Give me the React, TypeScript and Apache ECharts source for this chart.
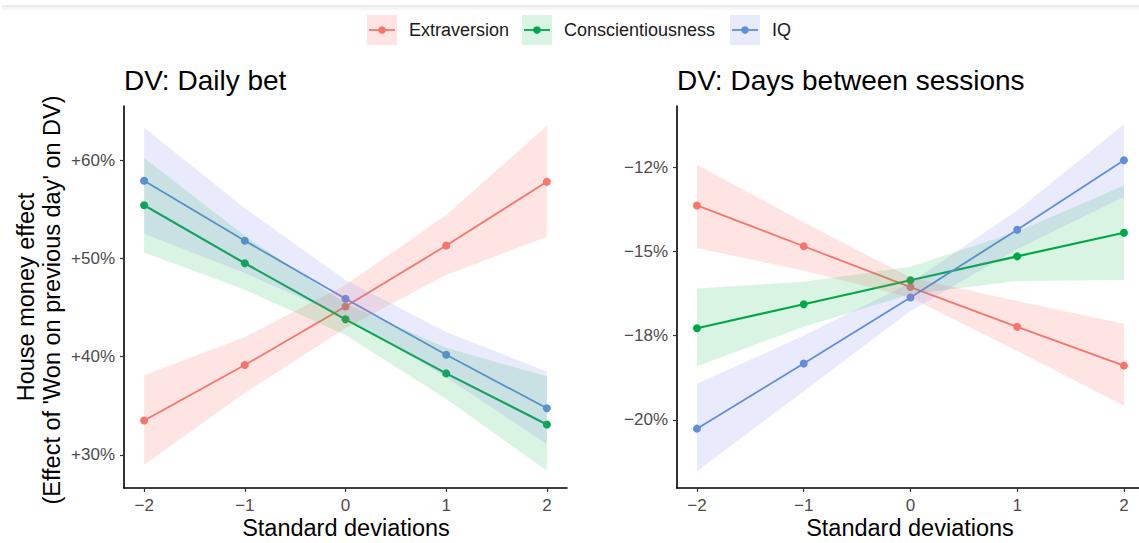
import React, { useEffect, useRef } from "react";
import * as echarts from "echarts";

const sd = [-2, -1, 0, 1, 2];
const seriesNames = ["Extraversion", "Conscientiousness", "IQ"];
const lineColors = ["#F8766D", "#00A64B", "#5F8FD6"];
const bandColors = ["rgba(248,118,109,0.19)", "rgba(0,180,60,0.15)", "rgba(120,128,235,0.16)"];

// Panel 1: DV Daily bet (percent)
const betExt = [33.5, 39.15, 45.1, 51.3, 57.8];
const betExtLo = [29.0, 36.3, 42.9, 48.3, 52.2];
const betExtHi = [38.1, 42.0, 47.3, 54.4, 63.5];
const betCon = [55.4, 49.5, 43.8, 38.3, 33.1];
const betConLo = [50.6, 46.8, 42.2, 35.7, 28.4];
const betConHi = [60.2, 52.3, 45.4, 40.9, 38.0];
const betIQ = [57.9, 51.8, 45.9, 40.2, 34.75];
const betIQLo = [52.5, 48.5, 44.0, 37.9, 31.1];
const betIQHi = [63.3, 55.1, 47.8, 42.5, 38.5];

// Panel 2: DV Days between sessions (percent)
const daysExt = [-13.64, -14.85, -16.06, -17.24, -18.39];
const daysExtLo = [-14.9, -15.58, -16.37, -17.96, -19.58];
const daysExtHi = [-12.43, -14.14, -15.78, -16.47, -17.15];
const daysCon = [-17.28, -16.57, -15.86, -15.15, -14.45];
const daysConLo = [-18.41, -17.24, -16.27, -15.88, -15.85];
const daysConHi = [-16.1, -15.9, -15.46, -14.42, -13.05];
const daysIQ = [-20.26, -18.33, -16.37, -14.36, -12.3];
const daysIQLo = [-21.52, -19.15, -16.77, -14.93, -13.39];
const daysIQHi = [-18.93, -17.5, -15.93, -13.79, -11.24];

const leftTicks = [30, 40, 50, 60];
const leftTickLabels = ["+30%", "+40%", "+50%", "+60%"];
const rightTicks = [-20, -17.5, -15, -12.5];
const rightTickLabels = ["\u221220%", "\u221218%", "\u221215%", "\u221212%"];

const panelTitles = ["DV: Daily bet", "DV: Days between sessions"];
const xTitle = "Standard deviations";
const yTitle1 = "House money effect";
const yTitle2 = "(Effect of 'Won on previous day' on DV)";

const FONT = "'Liberation Sans', Arial, Helvetica, sans-serif";

function bandSeries(idx: number, lo: number[], hi: number[], color: string) {
  return {
    type: "custom",
    xAxisIndex: idx,
    yAxisIndex: idx,
    z: 3,
    silent: true,
    data: sd.map((x, i) => [x, lo[i], hi[i]]),
    encode: { x: 0, y: [1, 2] },
    renderItem: (params: any, api: any) => {
      if (params.dataIndex !== 0) return null;
      const upper = sd.map((x, i) => api.coord([x, hi[i]]));
      const lower = sd.map((x, i) => api.coord([x, lo[i]])).reverse();
      return {
        type: "polygon",
        shape: { points: [...upper, ...lower] },
        style: { fill: color },
      };
    },
  };
}

function lineSeries(idx: number, name: string, vals: number[], color: string) {
  return {
    type: "line",
    name,
    xAxisIndex: idx,
    yAxisIndex: idx,
    z: 2,
    data: sd.map((x, i) => [x, vals[i]]),
    symbol: "circle",
    symbolSize: 8,
    showSymbol: true,
    lineStyle: { color, width: name === "Conscientiousness" ? 2.1 : 1.8 },
    itemStyle: { color },
  };
}

function fmtX(v: number) {
  return v < 0 ? "\u2212" + Math.abs(v) : String(v);
}

function xAxisCfg(gridIndex: number, min: number, max: number) {
  return {
    type: "value",
    gridIndex,
    min,
    max,
    splitLine: { show: false },
    axisLine: { show: true, onZero: false, lineStyle: { color: "#000", width: 1.6 } },
    axisTick: { show: true, length: 4, customValues: sd, lineStyle: { color: "#333", width: 1.2 } },
    axisLabel: {
      customValues: sd,
      formatter: (v: number) => fmtX(v),
      fontSize: 17,
      color: "#4D4D4D",
      fontFamily: FONT,
      margin: 9,
    },
  };
}

function yAxisCfg(gridIndex: number, min: number, max: number, ticks: number[], labels: string[]) {
  return {
    type: "value",
    gridIndex,
    min,
    max,
    splitLine: { show: false },
    axisLine: { show: true, onZero: false, lineStyle: { color: "#000", width: 1.6 } },
    axisTick: { show: true, length: 4, customValues: ticks, lineStyle: { color: "#333", width: 1.2 } },
    axisLabel: {
      customValues: ticks,
      formatter: (v: number) => {
        const k = ticks.findIndex((t) => Math.abs(t - v) < 1e-6);
        return k >= 0 ? labels[k] : "";
      },
      fontSize: 17,
      color: "#4D4D4D",
      fontFamily: FONT,
      margin: 9,
    },
  };
}

export default function App() {
  const ref = useRef<HTMLDivElement>(null);
  useEffect(() => {
    if (!ref.current) return;
    const chart = echarts.init(ref.current, null, { renderer: "svg" });

    const legendKeyX = [367, 522, 730];
    const legendGraphics: any[] = [];
    seriesNames.forEach((n, i) => {
      const kx = legendKeyX[i];
      legendGraphics.push(
        { type: "rect", shape: { x: kx, y: 15, width: 30, height: 30 }, style: { fill: bandColors[i] } },
        { type: "line", shape: { x1: kx + 2, y1: 30, x2: kx + 28, y2: 30 }, style: { stroke: lineColors[i], lineWidth: 1.8 } },
        { type: "circle", shape: { cx: kx + 15, cy: 30, r: 3.8 }, style: { fill: lineColors[i] } },
        {
          type: "text",
          x: kx + 42,
          y: 30,
          style: { text: n, fontSize: 18, fontFamily: FONT, fill: "#1A1A1A", textVerticalAlign: "middle", textAlign: "left" },
        }
      );
    });

    chart.setOption({
      animation: false,
      backgroundColor: "#FFFFFF",
      grid: [
        { left: 124, top: 106, width: 443, height: 382 },
        { left: 677, top: 106, width: 462, height: 382 },
      ],
      xAxis: [xAxisCfg(0, -2.2, 2.2), xAxisCfg(1, -2.187, 2.141)],
      yAxis: [
        yAxisCfg(0, 26.64, 65.5, leftTicks, leftTickLabels),
        yAxisCfg(1, -22.02, -10.69, rightTicks, rightTickLabels),
      ],
      graphic: [
        { type: "rect", shape: { x: 2, y: 5, width: 1137, height: 2 }, style: { fill: "#EBEBEB" } },
        { type: "rect", shape: { x: 2, y: 7, width: 1137, height: 3 }, style: { fill: "#F6F6F6" } },
        ...legendGraphics,
        {
          type: "text", x: 124, y: 80,
          style: { text: panelTitles[0], fontSize: 28, fontFamily: FONT, fill: "#000", textVerticalAlign: "middle", textAlign: "left" },
        },
        {
          type: "text", x: 677, y: 80,
          style: { text: panelTitles[1], fontSize: 28, fontFamily: FONT, fill: "#000", textVerticalAlign: "middle", textAlign: "left" },
        },
        {
          type: "text", x: 346, y: 528,
          style: { text: xTitle, fontSize: 23.5, fontFamily: FONT, fill: "#000", textVerticalAlign: "middle", textAlign: "center" },
        },
        {
          type: "text", x: 910, y: 528,
          style: { text: xTitle, fontSize: 23.5, fontFamily: FONT, fill: "#000", textVerticalAlign: "middle", textAlign: "center" },
        },
        {
          type: "text", x: 26, y: 297, rotation: Math.PI / 2,
          style: { text: yTitle1, fontSize: 23.5, fontFamily: FONT, fill: "#000", textVerticalAlign: "middle", textAlign: "center" },
        },
        {
          type: "text", x: 52, y: 300, rotation: Math.PI / 2,
          style: { text: yTitle2, fontSize: 23.5, fontFamily: FONT, fill: "#000", textVerticalAlign: "middle", textAlign: "center" },
        },
      ],
      series: [
        lineSeries(0, seriesNames[0], betExt, lineColors[0]),
        lineSeries(0, seriesNames[1], betCon, lineColors[1]),
        lineSeries(0, seriesNames[2], betIQ, lineColors[2]),
        lineSeries(1, seriesNames[0], daysExt, lineColors[0]),
        lineSeries(1, seriesNames[1], daysCon, lineColors[1]),
        lineSeries(1, seriesNames[2], daysIQ, lineColors[2]),
        bandSeries(0, betExtLo, betExtHi, bandColors[0]),
        bandSeries(0, betConLo, betConHi, bandColors[1]),
        bandSeries(0, betIQLo, betIQHi, bandColors[2]),
        bandSeries(1, daysExtLo, daysExtHi, bandColors[0]),
        bandSeries(1, daysConLo, daysConHi, bandColors[1]),
        bandSeries(1, daysIQLo, daysIQHi, bandColors[2]),
      ],
    });
    return () => chart.dispose();
  }, []);
  return (
    <div
      ref={ref}
      style={{ position: "absolute", left: 0, top: 0, width: 1139, height: 543, background: "#fff" }}
    />
  );
}
